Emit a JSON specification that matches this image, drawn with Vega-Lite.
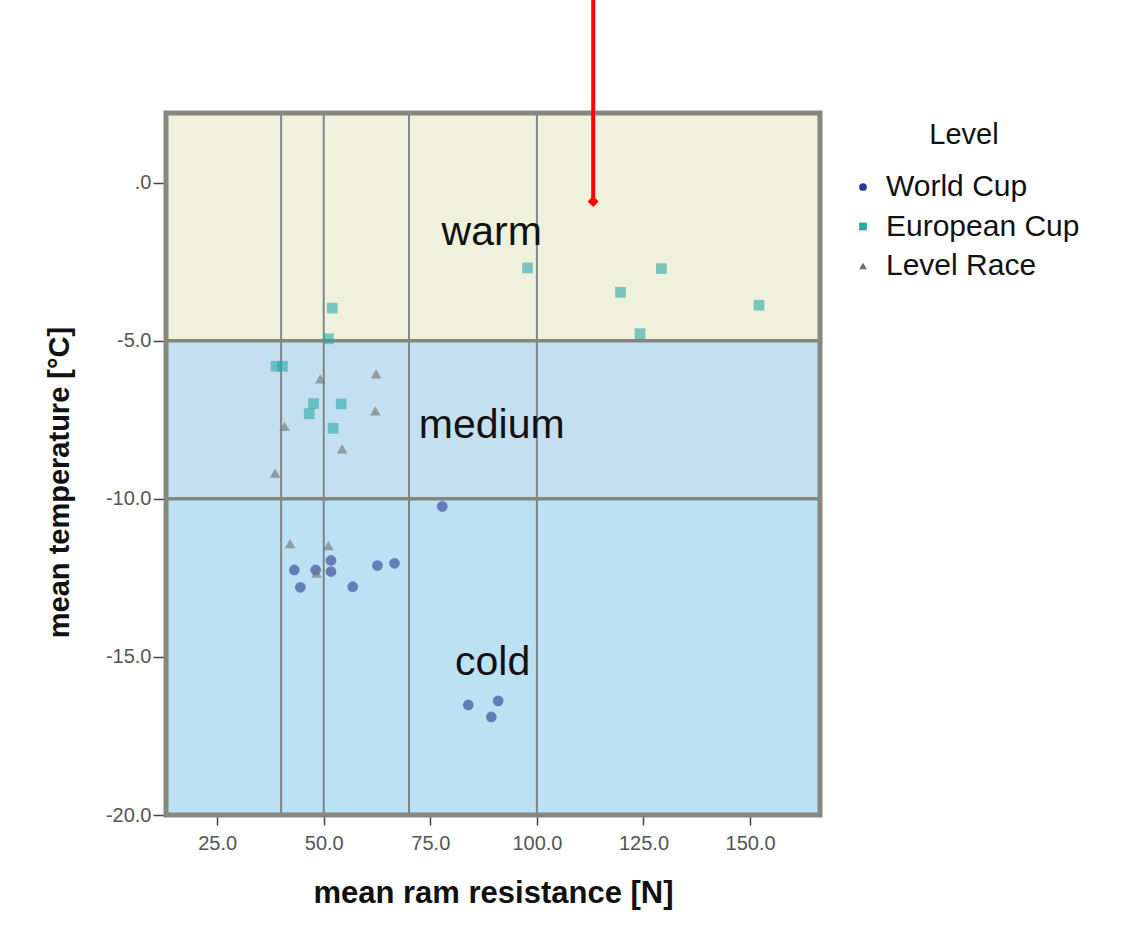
{
  "$schema": "https://vega.github.io/schema/vega-lite/v6.json",
  "width": 654,
  "height": 702,
  "autosize": {"type": "none"},
  "padding": {"left": 166, "top": 113, "right": 319, "bottom": 122},
  "background": "white",
  "config": {
    "view": {"stroke": null},
    "font": "Liberation Sans"
  },
  "datasets": {
    "regions": [
      {"region": "warm", "ylo": -5, "yhi": 2.2, "fillc": "warm"},
      {"region": "medium", "ylo": -10, "yhi": -5, "fillc": "medium"},
      {"region": "cold", "ylo": -20, "yhi": -10, "fillc": "cold"}
    ],
    "labels": [
      {"text": "warm", "x": 89.4, "y": -1.6},
      {"text": "medium", "x": 89.4, "y": -7.7},
      {"text": "cold", "x": 89.6, "y": -15.2}
    ],
    "vlines": [{"v": 40}, {"v": 50}, {"v": 70}, {"v": 100}],
    "hlines": [{"h": -5}, {"h": -10}],
    "points": [
      {"level": "World Cup", "ram": 77.8, "temp": -10.24},
      {"level": "World Cup", "ram": 43.1, "temp": -12.25},
      {"level": "World Cup", "ram": 44.5, "temp": -12.8},
      {"level": "World Cup", "ram": 48.1, "temp": -12.25},
      {"level": "World Cup", "ram": 51.7, "temp": -11.95},
      {"level": "World Cup", "ram": 51.7, "temp": -12.3},
      {"level": "World Cup", "ram": 56.8, "temp": -12.78},
      {"level": "World Cup", "ram": 62.6, "temp": -12.11},
      {"level": "World Cup", "ram": 66.6, "temp": -12.04},
      {"level": "World Cup", "ram": 83.9, "temp": -16.52},
      {"level": "World Cup", "ram": 90.9, "temp": -16.39},
      {"level": "World Cup", "ram": 89.3, "temp": -16.9},
      {"level": "European Cup", "ram": 97.8, "temp": -2.7},
      {"level": "European Cup", "ram": 52.0, "temp": -3.97},
      {"level": "European Cup", "ram": 51.1, "temp": -4.94},
      {"level": "European Cup", "ram": 38.8, "temp": -5.81},
      {"level": "European Cup", "ram": 40.3, "temp": -5.81},
      {"level": "European Cup", "ram": 47.6, "temp": -6.99},
      {"level": "European Cup", "ram": 46.6, "temp": -7.31},
      {"level": "European Cup", "ram": 54.1, "temp": -7.0},
      {"level": "European Cup", "ram": 52.2, "temp": -7.77},
      {"level": "European Cup", "ram": 129.2, "temp": -2.72},
      {"level": "European Cup", "ram": 119.6, "temp": -3.47},
      {"level": "European Cup", "ram": 152.1, "temp": -3.88},
      {"level": "European Cup", "ram": 124.2, "temp": -4.78},
      {"level": "Level Race", "ram": 49.2, "temp": -6.21},
      {"level": "Level Race", "ram": 62.3, "temp": -6.05},
      {"level": "Level Race", "ram": 62.1, "temp": -7.22},
      {"level": "Level Race", "ram": 40.8, "temp": -7.71},
      {"level": "Level Race", "ram": 54.3, "temp": -8.42},
      {"level": "Level Race", "ram": 38.6, "temp": -9.19},
      {"level": "Level Race", "ram": 42.1, "temp": -11.42},
      {"level": "Level Race", "ram": 51.1, "temp": -11.48},
      {"level": "Level Race", "ram": 48.3, "temp": -12.35}
    ],
    "marker": [{"ram": 113.2, "temp": -0.6, "top": 5.8}],
    "frame": [{"x1": 13, "x2": 166.4, "y1": -20, "y2": 2.2}]
  },
  "layer": [
    {
      "data": {"name": "regions"},
      "mark": {"type": "rect"},
      "encoding": {
        "y": {
          "field": "ylo", "type": "quantitative",
          "scale": {"domain": [-20, 2.2], "nice": false, "zero": false},
          "axis": {
            "values": [0, -5, -10, -15, -20],
            "labelExpr": "datum.value == 0 ? '.0' : replace(format(datum.value, '.1f'), '\u2212', '-')",
            "labelFontSize": 20,
            "labelColor": "#555555",
            "labelPadding": 2,
            "tickColor": "#444444",
            "tickSize": 13,
            "tickWidth": 1.5,
            "domain": false,
            "grid": false,
            "title": "mean temperature [°C]",
            "titleFontSize": 29,
            "titleFontWeight": "bold",
            "titleColor": "#111111",
            "titlePadding": 31,
            "titleY": 369
          }
        },
        "y2": {"field": "yhi"},
        "fill": {
          "field": "fillc", "type": "nominal",
          "scale": {"domain": ["warm", "medium", "cold"], "range": ["#eff1dc", "#c4dff0", "#bbe1f2"]},
          "legend": null
        }
      }
    },
    {
      "data": {"name": "vlines"},
      "mark": {"type": "rule", "color": "#6f7678", "strokeWidth": 2, "opacity": 0.85},
      "encoding": {
        "x": {
          "field": "v", "type": "quantitative",
          "scale": {"domain": [13, 166.4], "nice": false, "zero": false},
          "axis": {
            "values": [25, 50, 75, 100, 125, 150],
            "format": ".1f",
            "labelFontSize": 20,
            "labelColor": "#555555",
            "labelPadding": 8,
            "tickColor": "#444444",
            "tickSize": 10,
            "tickWidth": 1.5,
            "domain": false,
            "grid": false,
            "title": "mean ram resistance [N]",
            "titleFontSize": 31,
            "titleFontWeight": "bold",
            "titleColor": "#111111",
            "titlePadding": 25
          }
        }
      }
    },
    {
      "data": {"name": "hlines"},
      "mark": {"type": "rule", "color": "#85877f", "strokeWidth": 3.5},
      "encoding": {
        "y": {"field": "h", "type": "quantitative"}
      }
    },
    {
      "data": {"name": "labels"},
      "mark": {"type": "text", "fontSize": 41, "color": "#111111", "align": "center", "baseline": "middle"},
      "encoding": {
        "x": {"field": "x", "type": "quantitative"},
        "y": {"field": "y", "type": "quantitative"},
        "text": {"field": "text"}
      }
    },
    {
      "data": {"name": "points"},
      "mark": {"type": "point", "filled": true, "size": 115, "opacity": 0.6},
      "encoding": {
        "x": {"field": "ram", "type": "quantitative"},
        "y": {"field": "temp", "type": "quantitative"},
        "color": {
          "field": "level", "type": "nominal",
          "scale": {"domain": ["World Cup", "European Cup", "Level Race"], "range": ["#2b3a8e", "#2aa9a8", "#6a6f72"]},
          "legend": {
            "title": "Level",
            "orient": "none",
            "legendX": 682,
            "legendY": 8,
            "titleFontSize": 29,
            "titleFontWeight": "normal",
            "titleColor": "#111111",
            "titleAnchor": "middle",
            "titleAlign": "center",
            "titlePadding": 22,
            "labelFontSize": 30,
            "labelColor": "#111111",
            "labelOffset": 8,
            "labelLimit": 400,
            "rowPadding": 9.5,
            "symbolSize": 60,
            "symbolOpacity": 1
          }
        },
        "shape": {
          "field": "level", "type": "nominal",
          "scale": {"domain": ["World Cup", "European Cup", "Level Race"], "range": ["circle", "square", "triangle-up"]},
          "legend": null
        }
      }
    },
    {
      "data": {"name": "frame"},
      "mark": {"type": "rect", "fill": null, "fillOpacity": 0, "stroke": "#86877e", "strokeWidth": 5},
      "encoding": {
        "x": {"field": "x1", "type": "quantitative"},
        "x2": {"field": "x2"},
        "y": {"field": "y1", "type": "quantitative"},
        "y2": {"field": "y2"}
      }
    },
    {
      "data": {"name": "marker"},
      "mark": {"type": "rule", "color": "#ff0000", "strokeWidth": 4, "clip": false},
      "encoding": {
        "x": {"field": "ram", "type": "quantitative"},
        "y": {"field": "temp", "type": "quantitative"},
        "y2": {"field": "top"}
      }
    },
    {
      "data": {"name": "marker"},
      "mark": {"type": "point", "shape": "diamond", "filled": true, "color": "#ff0000", "size": 120, "opacity": 1},
      "encoding": {
        "x": {"field": "ram", "type": "quantitative"},
        "y": {"field": "temp", "type": "quantitative"}
      }
    }
  ]
}
